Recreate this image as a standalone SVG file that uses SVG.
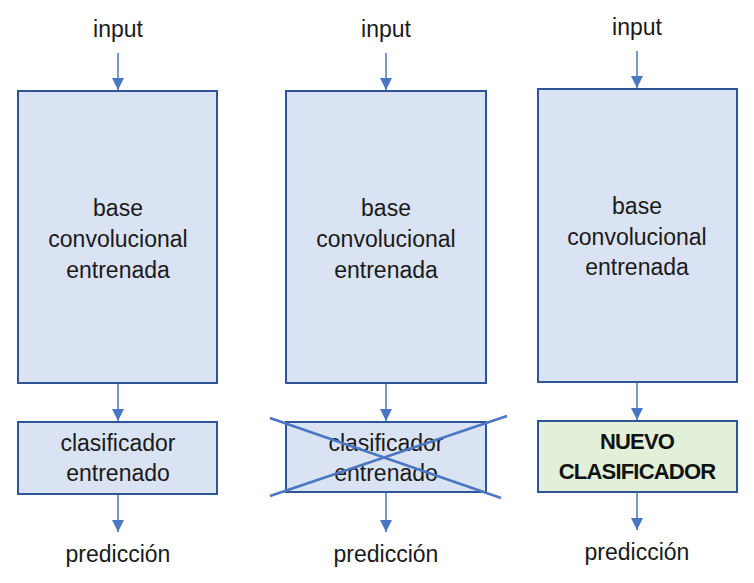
<svg xmlns="http://www.w3.org/2000/svg" width="754" height="583" viewBox="0 0 754 583">
<defs>
<marker id="ah" viewBox="0 0 10 10" refX="10" refY="5" markerWidth="12" markerHeight="12" markerUnits="userSpaceOnUse" orient="auto">
<path d="M0,0 L10,5 L0,10 z" fill="#4a76c2"/>
</marker>
<style>
.box{fill:#dae3f3;stroke:#2f5597;stroke-width:2}
.green{fill:#e2f0d9;stroke:#2f5597;stroke-width:2}
.t{font-family:"Liberation Sans",Arial,sans-serif;font-size:23px;fill:#1a1a1a;text-anchor:middle}
.b{font-family:"Liberation Sans",Arial,sans-serif;font-size:22px;font-weight:bold;letter-spacing:-0.8px;fill:#111;text-anchor:middle}
.c{stroke:#4a76c2;stroke-width:1.5;fill:none;marker-end:url(#ah)}
.x{stroke:#4a76c2;stroke-width:2.5}
</style>
</defs>
<rect width="754" height="583" fill="#fff"/>
<g id="labels">
<text class="t" x="118" y="37">input</text>
<text class="t" x="386" y="37">input</text>
<text class="t" x="637" y="35">input</text>
<text class="t" x="118" y="562">predicción</text>
<text class="t" x="386" y="562">predicción</text>
<text class="t" x="637" y="560">predicción</text>
</g>
<g id="base1">
<rect class="box" x="18" y="91" width="199" height="292"/>
<text class="t" x="118" y="216">base</text>
<text class="t" x="118" y="247">convolucional</text>
<text class="t" x="118" y="278">entrenada</text>
</g>
<g id="clf1">
<rect class="box" x="18" y="422" width="199" height="72"/>
<text class="t" x="118" y="451">clasificador</text>
<text class="t" x="118" y="481">entrenado</text>
</g>
<g id="base2">
<rect class="box" x="286" y="91" width="200" height="292"/>
<text class="t" x="386" y="216">base</text>
<text class="t" x="386" y="247">convolucional</text>
<text class="t" x="386" y="278">entrenada</text>
</g>
<g id="clf2">
<rect class="box" x="286" y="422" width="200" height="70"/>
<text class="t" x="386" y="451">clasificador</text>
<text class="t" x="386" y="481">entrenado</text>
<line class="x" x1="270" y1="418" x2="501" y2="498"/>
<line class="x" x1="270" y1="496" x2="507" y2="416"/>
</g>
<g id="base3">
<rect class="box" x="538" y="89" width="199" height="293"/>
<text class="t" x="637" y="214">base</text>
<text class="t" x="637" y="245">convolucional</text>
<text class="t" x="637" y="275">entrenada</text>
</g>
<g id="clf3">
<rect class="green" x="538" y="421" width="199" height="71"/>
<text class="b" x="637" y="449">NUEVO</text>
<text class="b" x="637" y="479">CLASIFICADOR</text>
</g>
<g id="connectors">
<line class="c" x1="118" y1="53" x2="118" y2="90"/>
<line class="c" x1="386" y1="53" x2="386" y2="90"/>
<line class="c" x1="637" y1="51" x2="637" y2="88"/>
<line class="c" x1="118" y1="384" x2="118" y2="421"/>
<line class="c" x1="386" y1="384" x2="386" y2="421"/>
<line class="c" x1="637" y1="383" x2="637" y2="420"/>
<line class="c" x1="118" y1="495" x2="118" y2="532"/>
<line class="c" x1="386" y1="493" x2="386" y2="532"/>
<line class="c" x1="637" y1="493" x2="637" y2="530"/>
</g>
</svg>
